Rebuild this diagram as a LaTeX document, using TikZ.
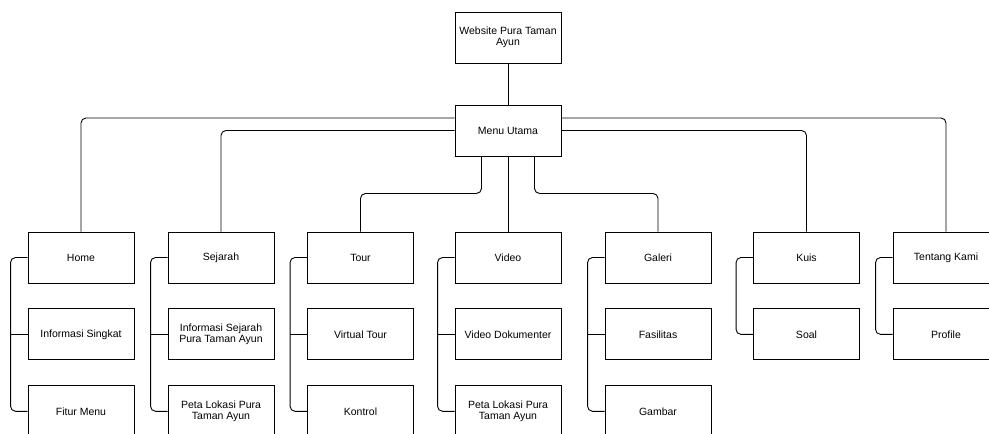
\documentclass[tikz,border=0pt]{standalone}
\usepackage{fontspec}
\setmainfont{Liberation Sans}
\usetikzlibrary{positioning}

\begin{document}
\begin{tikzpicture}[x=1pt,y=-1pt,
  kotak/.style={draw,line width=0.9pt,minimum width=106pt,minimum height=51pt,align=center,inner sep=1pt,font=\fontsize{10.5}{11.5}\selectfont},
  garis/.style={line width=0.9pt,rounded corners=5pt}]
\useasboundingbox (0,0) rectangle (989,434);
% akar
\node [kotak] (web) at (508,37.5) {Website Pura Taman\\Ayun};
\node [kotak] (menu) at (508,130.5) {Menu Utama};
% menu baris pertama
\node [kotak] (home) at (81,257.5) {Home};
\node [kotak] (sejarah) at (221,257.5) {Sejarah};
\node [kotak] (tour) at (360.5,257.5) {Tour};
\node [kotak] (video) at (508,257.5) {Video};
\node [kotak] (galeri) at (658,257.5) {Galeri};
\node [kotak] (kuis) at (806.5,257.5) {Kuis};
\node [kotak] (tentang) at (946,257.5) {Tentang Kami};
% sub menu
\node [kotak,below=25pt of home] (info) {Informasi Singkat};
\node [kotak,below=25pt of info] (fitur) {Fitur Menu};
\node [kotak,below=25pt of sejarah] (infosejarah) {Informasi Sejarah\\Pura Taman Ayun};
\node [kotak,below=25pt of infosejarah] (peta) {Peta Lokasi Pura\\Taman Ayun};
\node [kotak,below=25pt of tour] (virtual) {Virtual Tour};
\node [kotak,below=25pt of virtual] (kontrol) {Kontrol};
\node [kotak,below=25pt of video] (dokumenter) {Video Dokumenter};
\node [kotak,below=25pt of dokumenter] (petavideo) {Peta Lokasi Pura\\Taman Ayun};
\node [kotak,below=25pt of galeri] (fasilitas) {Fasilitas};
\node [kotak,below=25pt of fasilitas] (gambar) {Gambar};
\node [kotak,below=25pt of kuis] (soal) {Soal};
\node [kotak,below=25pt of tentang] (profile) {Profile};

\draw [garis] (web) -- (menu);
\draw [garis] ([yshift=12.5pt]menu.west) -| (home);
\draw [garis] (menu.west) -| (sejarah);
\draw [garis] ([xshift=-26.5pt]menu.south) -- ++(0,37) -| (tour);
\draw [garis] (menu) -- (video);
\draw [garis] ([xshift=26.5pt]menu.south) -- ++(0,37) -| (galeri);
\draw [garis] (menu.east) -| (kuis);
\draw [garis] ([yshift=12.5pt]menu.east) -| (tentang);

% kurung kiri
\draw [garis] (home.west) -- ++(-17,0) |- (fitur.west);
\draw [garis] (info.west) -- ++(-17,0);
\draw [garis] (sejarah.west) -- ++(-17,0) |- (peta.west);
\draw [garis] (infosejarah.west) -- ++(-17,0);
\draw [garis] (tour.west) -- ++(-17,0) |- (kontrol.west);
\draw [garis] (virtual.west) -- ++(-17,0);
\draw [garis] (video.west) -- ++(-17,0) |- (petavideo.west);
\draw [garis] (dokumenter.west) -- ++(-17,0);
\draw [garis] (galeri.west) -- ++(-17,0) |- (gambar.west);
\draw [garis] (fasilitas.west) -- ++(-17,0);
\draw [garis] (kuis.west) -- ++(-17,0) |- (soal.west);
\draw [garis] (tentang.west) -- ++(-17,0) |- (profile.west);
\end{tikzpicture}
\end{document}
